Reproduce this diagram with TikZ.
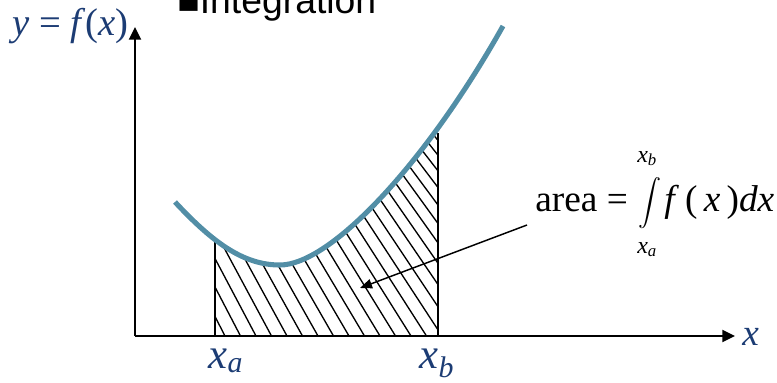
\documentclass[tikz,border=0pt]{standalone}
\usepackage{exscale}
\usepackage{fontspec}
\setmainfont{Liberation Serif}
\newfontfamily\headfont{Liberation Sans}
\usetikzlibrary{arrows.meta,positioning,calc}
\definecolor{curveblue}{RGB}{82,142,166}
\definecolor{lblblue}{RGB}{28,60,116}
\newcommand{\sub}[2]{\textit{#1}\textsubscript{\textit{#2}}}

\begin{document}
\begin{tikzpicture}[
    x=0.75pt, y=-0.75pt,
    axis/.style={line width=1.5pt, -{Triangle[length=9.5pt, width=9pt]}},
    bound/.style={line width=1.5pt},
    hatch/.style={line width=1pt},
    fcurve/.style={line width=3.8pt, draw=curveblue},
    pointer/.style={line width=1.1pt, -{Triangle[length=9pt, width=7pt]}},
    lbl/.style={text=lblblue, inner sep=0pt, font=\fontsize{28}{32}\selectfont},
    fml/.style={inner sep=0pt, font=\fontsize{28}{32}\selectfont},
    lim/.style={inner sep=0pt, font=\fontsize{18}{20}\selectfont},
    intsign/.style={inner sep=0pt, font=\fontsize{17.5}{20}\selectfont},
    title/.style={inner sep=0pt, font=\headfont\fontsize{28}{32}\selectfont}
]
\useasboundingbox (0,0) rectangle (777,382);
\clip (0,0) rectangle (777,382);

% Axes and limits
\coordinate (O) at (135,336);
\coordinate (ytop) at (135,27);
\coordinate (xend) at (735,336);
\coordinate (xa) at (215,336);
\coordinate (xatop) at (215,241);
\coordinate (xb) at (438,336);
\coordinate (xbtop) at (438,133);

% Hatched area under the curve
\begin{scope}
  \clip (xa) rectangle (438,100);
  \clip (175,202) .. controls (215,245) and (245,265) .. (280,265)
      .. controls (330,265) and (425,165) .. (503,26) -- (503,336) -- (175,336) -- cycle;
  \foreach \k in {0,...,27} {
    \pgfmathsetmacro{\b}{225+15.5*\k}
    \pgfmathsetmacro{\s}{1.95-0.03*\k}
    \draw[hatch] (\b,336) -- ++({-240/\s},-240);
  }
\end{scope}
\draw[bound] (xa) -- (xatop);
\draw[bound] (xb) -- (xbtop);

% The function
\draw[fcurve] (175,202) .. controls (215,245) and (245,265) .. (280,265)
    .. controls (330,265) and (425,165) .. (503,26);

\draw[axis] (O) -- (ytop);
\draw[axis] (O) -- (xend);

% Labels
\node[title, anchor=base west] (title) at (177,13) {■Integration};
\node[lbl, anchor=base west, font=\fontsize{29}{32}\selectfont] (ylbl) at (12,35)
    {\textit{y} = \textit{f}(\textit{x})};
\node[lbl, anchor=base west] (xlbl) at (742,345) {\textit{x}};
\node[lbl, anchor=base, font=\fontsize{32}{36}\selectfont] (xalbl) at (226,368) {\sub{x}{a}};
\node[lbl, anchor=base, font=\fontsize{32}{36}\selectfont] (xblbl) at (437,368) {\sub{x}{b}};

% Area formula
\node[fml, anchor=base west] (area) at (535,211) {area =};
\node[intsign] (integral) at (650,203) {$\displaystyle\int$};
\node[lim, anchor=base west] (upper) at (637,162) {\sub{x}{b}};
\node[lim, anchor=base west] (lower) at (637,253) {\sub{x}{a}};
\node[fml, anchor=base west] (integrand) at (664,211) {\textit{f}\,(\,\textit{x}\,)\textit{dx}};

\coordinate (tail) at ($(area.base west)+(-8,14)$);
\coordinate (spot) at (360,288);
\draw[pointer] (tail) -- (spot);
\end{tikzpicture}
\end{document}
